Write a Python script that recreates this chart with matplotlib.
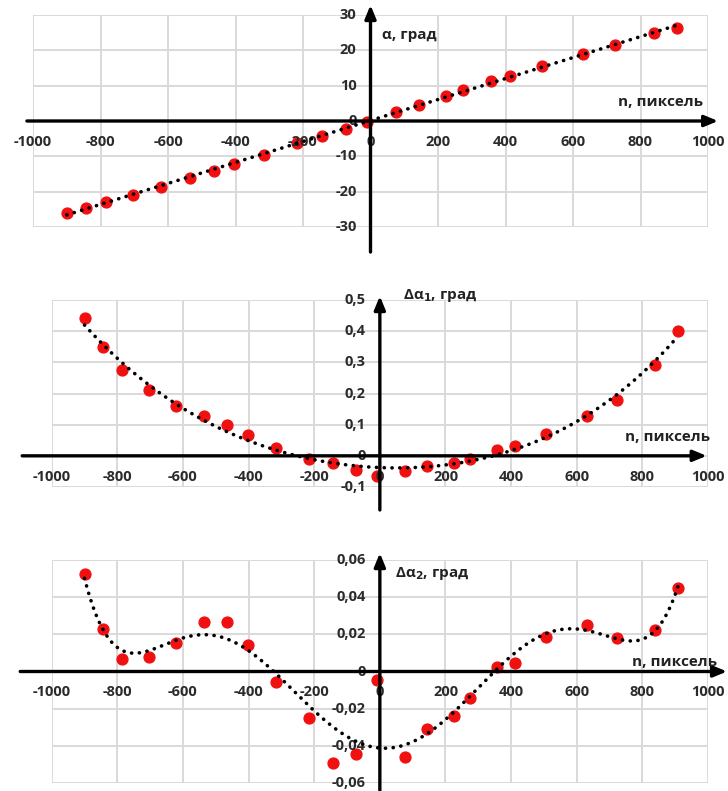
"""Three stacked panels: angle vs pixel and two residuals, Excel-like look."""
import numpy as np
import matplotlib.pyplot as plt

plt.rcParams['font.family'] = ['Open Sans', 'DejaVu Sans']
plt.rcParams['font.weight'] = 'bold'
plt.rcParams['mathtext.fontset'] = 'dejavusans'

n_px = [-900, -843, -785, -705, -620, -536, -465, -403, -317, -217, -143, -74,
        -10, 76, 145, 225, 275, 358, 413, 507, 630, 723, 839, 909]
alpha = [-25.9, -24.5, -22.9, -21.0, -18.6, -16.2, -14.2, -12.3, -9.6, -6.3, -4.2, -2.2,
         -0.2, 2.5, 4.6, 7.1, 8.7, 11.2, 12.7, 15.6, 19.1, 21.6, 24.8, 26.4]
d_alpha1 = [0.443, 0.349, 0.276, 0.210, 0.159, 0.127, 0.099, 0.068, 0.024, -0.011, -0.022, -0.045,
            -0.065, -0.050, -0.034, -0.024, -0.011, 0.018, 0.031, 0.070, 0.129, 0.180, 0.290, 0.400]
d_alpha2 = [0.0523, 0.0229, 0.0069, 0.0080, 0.0151, 0.0265, 0.0265, 0.0140, -0.0059, -0.0249,
            -0.0494, -0.0446, -0.0046, -0.0459, -0.0311, -0.0237, -0.0142, 0.0025, 0.0048,
            0.0187, 0.0252, 0.0181, 0.0226, 0.0451]

x_ticks = [-1000, -800, -600, -400, -200, 0, 200, 400, 600, 800, 1000]

panels = [
    dict(y=alpha, deg=1, ylim=(-30, 30), yticks=[-30, -20, -10, 0, 10, 20, 30], fmt="{:.0f}",
         rect=[33 / 728, 1 - 227 / 791, 675 / 728, 212 / 791],
         xaxis=(-0.009, 1.015), yaxis=(-0.118, 1.047),
         ylabel="α, град", ylab_pos=(381.7, 35), xlab_pos=(703, 102)),
    dict(y=d_alpha1, deg=4, ylim=(-0.1, 0.5), yticks=[-0.1, 0, 0.1, 0.2, 0.3, 0.4, 0.5], fmt="{:.1f}",
         rect=[51.7 / 728, 1 - 487 / 791, 656.3 / 728, 187 / 791],
         xaxis=(-0.045, 0.998), yaxis=(-0.123, 1.021),
         ylabel=r"Δα$_\mathbf{1}$, град", ylab_pos=(403, 295), xlab_pos=(710, 437)),
    dict(y=d_alpha2, deg=6, ylim=(-0.06, 0.06), yticks=[-0.06, -0.04, -0.02, 0, 0.02, 0.04, 0.06],
         fmt="{:.2f}",
         rect=[51.7 / 728, 1 - 783 / 791, 656.3 / 728, 223 / 791],
         xaxis=(-0.048, 1.029), yaxis=(-0.036, 1.031),
         ylabel=r"Δα$_\mathbf{2}$, град", ylab_pos=(395, 573), xlab_pos=(717, 662)),
]

W, H = 728, 791
fig = plt.figure(figsize=(W / 100, H / 100), dpi=100, facecolor="white")

for p in panels:
    ax = fig.add_axes(p["rect"])
    ax.set_xlim(-1000, 1000)
    ax.set_ylim(*p["ylim"])
    ax.set_xticks(x_ticks)
    ax.set_yticks(p["yticks"])
    ax.grid(True, color="#d9d9d9", lw=1.4)
    ax.tick_params(length=0, labelbottom=False, labelleft=False)
    for s in ax.spines.values():
        s.set_visible(False)
    ax.set_axisbelow(True)

    # data + polynomial trend line
    x = np.array(n_px, dtype=float)
    y = np.array(p["y"], dtype=float)
    ax.plot(x, y, "o", color="#f01010", ms=7.8, zorder=3)
    coef = np.polyfit(x, y, p["deg"])
    xs = np.linspace(x.min(), x.max(), 400)
    ax.plot(xs, np.polyval(coef, xs), color="black", lw=2.6,
            ls=(0, (0.05, 2.1)), dash_capstyle="round", zorder=4)

    # axes through origin with arrow heads
    y0 = (0 - p["ylim"][0]) / (p["ylim"][1] - p["ylim"][0])
    x0 = 0.5
    ax.annotate("", xy=(p["xaxis"][1], y0), xytext=(p["xaxis"][0], y0),
                xycoords="axes fraction", annotation_clip=False,
                arrowprops=dict(arrowstyle="-|>,head_length=0.8,head_width=0.33",
                                color="black", lw=2.4, shrinkA=0, shrinkB=0), zorder=5)
    ax.annotate("", xy=(x0, p["yaxis"][1]), xytext=(x0, p["yaxis"][0]),
                xycoords="axes fraction", annotation_clip=False,
                arrowprops=dict(arrowstyle="-|>,head_length=0.8,head_width=0.33",
                                color="black", lw=2.4, shrinkA=0, shrinkB=0), zorder=5)

    # tick labels next to the axes
    for xt in x_ticks:
        ax.annotate(f"{xt}", xy=(xt, 0), xytext=(0, -21), textcoords="offset pixels",
                    ha="center", va="center", fontsize=10.5, fontweight="bold",
                    color="#2b2b2b", annotation_clip=False)
    for yt in p["yticks"]:
        lab = p["fmt"].format(yt).replace(".", ",")
        if yt == 0:
            lab = "0"
        ax.annotate(lab, xy=(0, yt), xytext=(-14, 0), textcoords="offset pixels",
                    ha="right", va="center", fontsize=10.5, fontweight="bold",
                    color="#2b2b2b", annotation_clip=False)

    # axis titles
    fig.text(p["ylab_pos"][0] / W, 1 - p["ylab_pos"][1] / H, p["ylabel"],
             ha="left", va="center", fontsize=11, fontweight="bold", color="#222222")
    fig.text(p["xlab_pos"][0] / W, 1 - p["xlab_pos"][1] / H, "n, пиксель",
             ha="right", va="center", fontsize=11, fontweight="bold", color="#222222")

fig.savefig("out.png", dpi=100, facecolor="white")
